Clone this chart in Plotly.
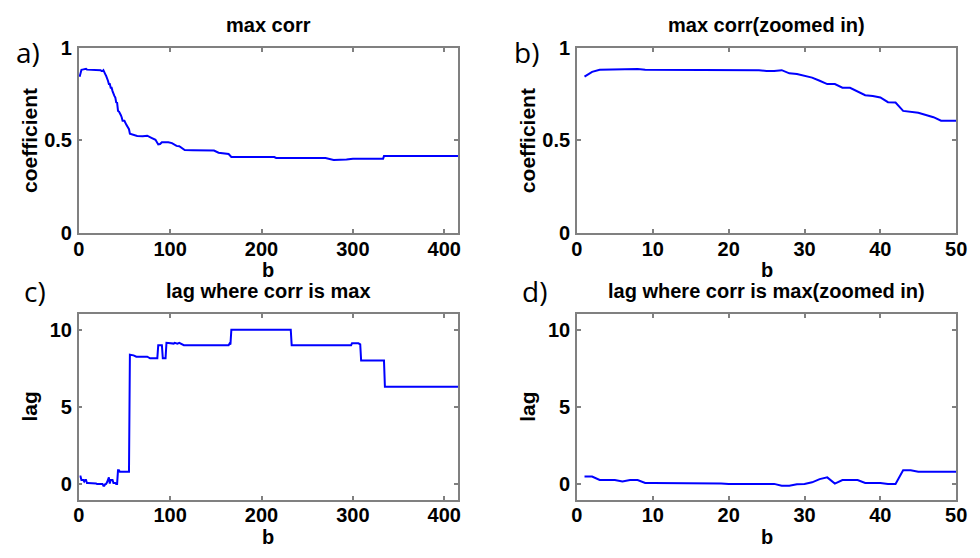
import plotly.graph_objects as go

# ---- data ----
b_zoom = list(range(1, 51))
coef_zoom = [0.844, 0.870, 0.881, 0.882, 0.883, 0.884, 0.886, 0.886, 0.882, 0.882,
             0.882, 0.882, 0.882, 0.882, 0.882, 0.882, 0.882, 0.882, 0.879, 0.879,
             0.879, 0.879, 0.879, 0.879, 0.874, 0.874, 0.879, 0.862, 0.858, 0.848,
             0.839, 0.822, 0.804, 0.804, 0.784, 0.784, 0.766, 0.744, 0.740, 0.732,
             0.706, 0.704, 0.659, 0.656, 0.649, 0.637, 0.625, 0.606, 0.606, 0.606]
lag_zoom = [0.50, 0.50, 0.27, 0.27, 0.27, 0.17, 0.27, 0.27, 0.08, 0.08,
            0.08, 0.08, 0.08, 0.08, 0.08, 0.08, 0.08, 0.08, 0.04, 0.02,
            0.02, 0.02, 0.02, 0.02, 0.02, 0.02, -0.10, -0.10, 0.00, 0.02,
            0.12, 0.33, 0.44, 0.04, 0.27, 0.27, 0.27, 0.08, 0.08, 0.08,
            0.02, 0.02, 0.90, 0.90, 0.80, 0.80, 0.80, 0.80, 0.80, 0.80]

b_tail_coef = [52, 55, 56, 60, 64, 70, 75, 79, 84, 87, 89, 91, 95, 98, 102, 107, 110,
               114, 116, 125, 136, 148, 153, 160, 164, 167, 180, 214, 216, 250, 270,
               279, 290, 293, 300, 307, 320, 333, 334, 415]
coef_tail = [0.585, 0.56, 0.536, 0.53, 0.524, 0.522, 0.525, 0.515, 0.503, 0.478, 0.48,
             0.49, 0.492, 0.49, 0.485, 0.47, 0.468, 0.455, 0.448, 0.447, 0.448, 0.445,
             0.433, 0.43, 0.426, 0.41, 0.41, 0.41, 0.405, 0.405, 0.405, 0.394, 0.393,
             0.396, 0.401, 0.40, 0.398, 0.40, 0.415, 0.415]

b_tail_lag = [55, 56, 60, 63, 70, 75, 78, 86, 87, 91, 92, 95, 96, 104, 105, 108, 110,
              113, 115, 164, 165, 166, 167, 232, 233, 298, 299, 306, 308, 309, 334, 335, 415]
lag_tail = [0.8, 8.38, 8.34, 8.25, 8.26, 8.25, 8.15, 8.15, 9.0, 9.0, 8.15, 8.15, 9.15,
            9.1, 9.15, 9.1, 9.15, 9.08, 9.0, 9.0, 9.1, 9.05, 10.0, 10.0, 9.0, 9.0, 9.12,
            9.12, 9.05, 8.0, 8.0, 6.3, 6.3]

titles = ["max corr", "max corr(zoomed in)", "lag where corr is max",
          "lag where corr is max(zoomed in)"]
ylabels = ["coefficient", "coefficient", "lag", "lag"]
panel_tags = ["a)", "b)", "c)", "d)"]

W, H = 980, 558
BF = "Liberation Sans, Arial, sans-serif"

# panel boxes in pixels: (left, right, top, bottom)
boxes = [(74, 460, 38.3, 231), (581, 967, 38.3, 231),
         (74, 460, 315.7, 508.7), (581, 967, 315.7, 508.7)]

fig = go.Figure()
series = [
    (b_zoom + b_tail_coef, coef_zoom + coef_tail),
    (b_zoom, coef_zoom),
    (b_zoom + b_tail_lag, lag_zoom + lag_tail),
    (b_zoom, lag_zoom),
]
for i, (xs, ys) in enumerate(series):
    sfx = "" if i == 0 else str(i + 1)
    fig.add_trace(go.Scatter(x=xs, y=ys, mode="lines",
                             line=dict(color="#0000FF", width=2),
                             xaxis="x" + sfx, yaxis="y" + sfx, showlegend=False))

layout = dict(width=W, height=H, margin=dict(l=0, r=0, t=0, b=0),
              paper_bgcolor="white", plot_bgcolor="white", showlegend=False)
xranges = [[0, 415], [0, 50], [0, 415], [0, 50]]
xticks = [[0, 100, 200, 300, 400], [0, 10, 20, 30, 40, 50]] * 2
yranges = [[0, 1], [0, 1], [-1, 11], [-1, 11]]
yticks = [[0, 0.5, 1], [0, 0.5, 1], [0, 5, 10], [0, 5, 10]]
annotations = []
for i, (l, r, t, bt) in enumerate(boxes):
    sfx = "" if i == 0 else str(i + 1)
    common = dict(showline=True, linecolor="#808080", linewidth=1.5, mirror="ticks",
                  ticks="inside", ticklen=4, tickcolor="#808080", tickwidth=1.5,
                  showgrid=False, zeroline=False,
                  tickfont=dict(family=BF, size=20, color="black", weight="bold"))
    layout["xaxis" + sfx] = dict(domain=[l / W, r / W], range=xranges[i],
                                 tickvals=xticks[i], anchor="y" + sfx,
                                 ticklabelstandoff=-3, **common)
    layout["yaxis" + sfx] = dict(domain=[1 - bt / H, 1 - t / H], range=yranges[i],
                                 tickvals=yticks[i], anchor="x" + sfx,
                                 ticklabelstandoff=1, **common)
    cx = (l + r) / 2
    cy = (t + bt) / 2
    annotations.append(dict(text="<b>%s</b>" % titles[i], x=cx / W, y=1 - (t - 24) / H,
                            xref="paper", yref="paper", showarrow=False,
                            xanchor="center", yanchor="middle",
                            font=dict(family=BF, size=20, color="black")))
    annotations.append(dict(text="<b>b</b>", x=cx / W, y=1 - (bt + 39) / H,
                            xref="paper", yref="paper", showarrow=False,
                            xanchor="center", yanchor="middle",
                            font=dict(family=BF, size=20, color="black")))
    annotations.append(dict(text="<b>%s</b>" % ylabels[i], x=(l - 50) / W, y=1 - cy / H,
                            xref="paper", yref="paper", showarrow=False, textangle=-90,
                            xanchor="center", yanchor="middle",
                            font=dict(family=BF, size=21, color="black")))
tag_pos = [(22, 43), (530, 43), (30, 292), (538, 292)]
for tag, (px, py) in zip(panel_tags, tag_pos):
    annotations.append(dict(text=tag, x=px / W, y=1 - py / H, xref="paper", yref="paper",
                            showarrow=False, xanchor="center", yanchor="middle",
                            font=dict(family="Open Sans, sans-serif", size=28, color="black")))
layout["annotations"] = annotations
fig.update_layout(**layout)
fig.write_html("out.html")
